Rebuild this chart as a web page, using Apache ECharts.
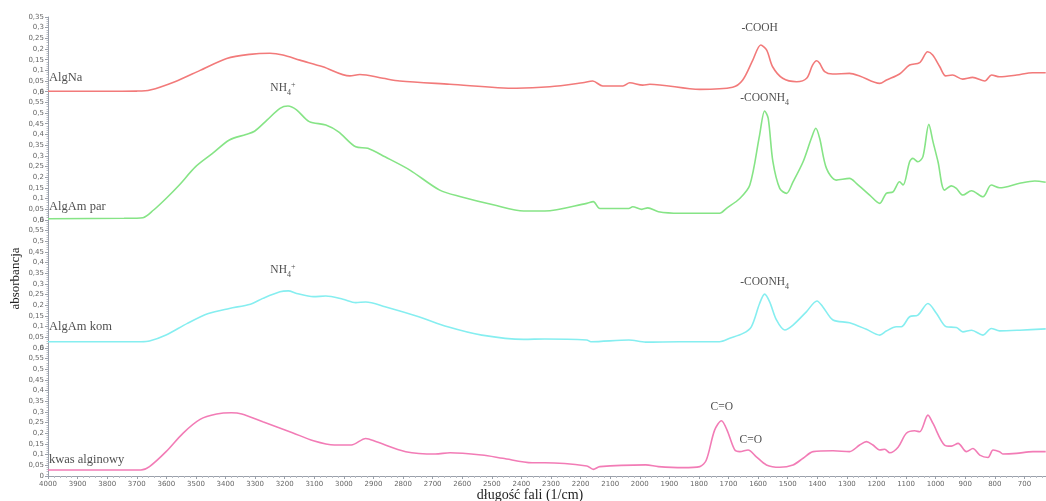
<!DOCTYPE html>
<html>
<head>
<meta charset="utf-8">
<script src="https://cdn.jsdelivr.net/npm/echarts@6/dist/echarts.min.js"></script>
<style>
  html, body { margin: 0; padding: 0; background: #fff; }
  #chart { width: 1046px; height: 501px; }
</style>
</head>
<body>
<div id="chart"></div>
<script>
// FTIR spectra, stacked: wavenumber (1/cm) and absorbance of each sample
const wnAlgNa = [4000, 3824, 3700, 3655, 3571, 3486, 3396, 3318, 3250, 3206, 3149, 3071, 2980, 2946, 2868, 2811, 2642, 2417, 2304, 2193, 2159, 2125, 2057, 2034, 1990, 1966, 1797, 1686, 1652, 1618, 1591, 1571, 1551, 1517, 1470, 1436, 1416, 1402, 1392, 1375, 1348, 1291, 1257, 1189, 1166, 1122, 1088, 1054, 1027, 1010, 986, 966, 943, 909, 875, 834, 811, 784, 726, 672, 628];
const absAlgNa = [0.002, 0.002, 0.003, 0.008, 0.047, 0.100, 0.156, 0.175, 0.180, 0.172, 0.148, 0.117, 0.074, 0.081, 0.063, 0.050, 0.035, 0.016, 0.023, 0.042, 0.050, 0.027, 0.027, 0.042, 0.031, 0.035, 0.011, 0.021, 0.055, 0.148, 0.219, 0.195, 0.117, 0.063, 0.047, 0.063, 0.125, 0.145, 0.133, 0.094, 0.083, 0.086, 0.074, 0.039, 0.055, 0.083, 0.125, 0.136, 0.187, 0.172, 0.117, 0.074, 0.078, 0.059, 0.067, 0.050, 0.078, 0.070, 0.078, 0.089, 0.089];

const wnAlgAmPar = [4000, 3743, 3679, 3643, 3601, 3557, 3501, 3444, 3387, 3331, 3302, 3260, 3216, 3189, 3160, 3117, 3061, 3018, 2960, 2919, 2861, 2777, 2676, 2605, 2492, 2392, 2321, 2179, 2157, 2135, 2037, 2024, 1993, 1973, 1937, 1865, 1730, 1707, 1662, 1628, 1595, 1578, 1566, 1550, 1527, 1504, 1482, 1448, 1420, 1405, 1392, 1369, 1336, 1291, 1268, 1223, 1189, 1167, 1144, 1122, 1110, 1088, 1077, 1060, 1043, 1023, 1009, 992, 970, 947, 930, 908, 879, 840, 812, 784, 716, 665, 628];
const absAlgAmPar = [0.005, 0.007, 0.010, 0.046, 0.100, 0.162, 0.249, 0.311, 0.374, 0.400, 0.415, 0.467, 0.522, 0.533, 0.515, 0.460, 0.444, 0.412, 0.342, 0.335, 0.295, 0.233, 0.139, 0.108, 0.069, 0.041, 0.041, 0.077, 0.085, 0.053, 0.053, 0.061, 0.049, 0.056, 0.038, 0.031, 0.031, 0.054, 0.100, 0.163, 0.397, 0.510, 0.476, 0.272, 0.147, 0.124, 0.178, 0.272, 0.382, 0.429, 0.382, 0.241, 0.186, 0.194, 0.171, 0.116, 0.077, 0.124, 0.131, 0.178, 0.163, 0.272, 0.288, 0.272, 0.296, 0.447, 0.366, 0.272, 0.139, 0.159, 0.147, 0.116, 0.136, 0.108, 0.163, 0.150, 0.171, 0.182, 0.176];

const wnAlgAmKom = [4000, 3686, 3657, 3601, 3529, 3458, 3387, 3316, 3274, 3216, 3188, 3160, 3103, 3061, 3003, 2960, 2926, 2861, 2747, 2649, 2534, 2392, 2321, 2179, 2165, 2037, 1980, 1865, 1730, 1696, 1651, 1623, 1595, 1578, 1561, 1538, 1510, 1482, 1437, 1401, 1381, 1347, 1291, 1234, 1189, 1167, 1133, 1116, 1088, 1060, 1026, 997, 964, 930, 908, 879, 840, 812, 784, 716, 628];
const absAlgAmKom = [0.029, 0.029, 0.032, 0.060, 0.115, 0.161, 0.185, 0.205, 0.232, 0.263, 0.267, 0.255, 0.240, 0.243, 0.228, 0.212, 0.215, 0.193, 0.146, 0.099, 0.060, 0.040, 0.042, 0.037, 0.029, 0.037, 0.027, 0.029, 0.029, 0.045, 0.068, 0.099, 0.208, 0.252, 0.216, 0.131, 0.084, 0.107, 0.169, 0.220, 0.192, 0.131, 0.118, 0.087, 0.060, 0.079, 0.099, 0.099, 0.146, 0.154, 0.208, 0.161, 0.099, 0.096, 0.075, 0.083, 0.060, 0.091, 0.080, 0.083, 0.089];

const wnKwas = [4000, 3686, 3657, 3601, 3544, 3486, 3430, 3380, 3345, 3274, 3174, 3103, 3032, 2975, 2926, 2890, 2791, 2691, 2641, 2534, 2463, 2364, 2321, 2179, 2157, 2135, 1980, 1937, 1854, 1797, 1775, 1747, 1724, 1705, 1679, 1662, 1634, 1606, 1572, 1527, 1482, 1448, 1414, 1347, 1291, 1257, 1234, 1212, 1189, 1172, 1155, 1127, 1099, 1071, 1054, 1026, 1009, 970, 947, 924, 896, 874, 851, 823, 806, 784, 773, 727, 671, 628];
const absKwas = [0.028, 0.028, 0.044, 0.114, 0.200, 0.265, 0.290, 0.296, 0.290, 0.254, 0.203, 0.165, 0.145, 0.145, 0.176, 0.160, 0.114, 0.103, 0.109, 0.098, 0.083, 0.062, 0.062, 0.047, 0.031, 0.044, 0.052, 0.044, 0.039, 0.044, 0.075, 0.215, 0.259, 0.215, 0.122, 0.114, 0.122, 0.090, 0.052, 0.041, 0.052, 0.083, 0.114, 0.118, 0.114, 0.145, 0.161, 0.145, 0.122, 0.125, 0.109, 0.135, 0.200, 0.212, 0.207, 0.285, 0.246, 0.145, 0.140, 0.153, 0.114, 0.129, 0.098, 0.087, 0.122, 0.114, 0.103, 0.106, 0.114, 0.114];

// sample names, colours and the vertical offset of each stacked panel
const sampleNames = ['AlgNa', 'AlgAm par', 'AlgAm kom', 'kwas alginowy'];
const sampleColors = ['#f27a7a', '#86e486', '#86eef0', '#f27cb6'];
const panelOffsets = [1.8, 1.2, 0.6, 0];
const panelHeight = 0.6;
const axisTop = 2.15;

// name labels: [wavenumber, absorbance inside its panel]
const nameLabelPos = [[4000, 0.064], [4000, 0.060], [4000, 0.098], [4000, 0.075]];

// band assignments: text, wavenumber, absorbance inside the panel, panel index
const bandText = ['-COOH', 'NH{sub|4}{sup|+}', '-COONH{sub|4}', 'NH{sub|4}{sup|+}', '-COONH{sub|4}', 'C=O', 'C=O'];
const bandWn = [1595, 3206, 1578, 3206, 1578, 1723, 1625];
const bandAbs = [0.298, 0.617, 0.570, 0.365, 0.309, 0.323, 0.169];
const bandPanel = [0, 1, 1, 2, 2, 3, 3];

const spectraWn = [wnAlgNa, wnAlgAmPar, wnAlgAmKom, wnKwas];
const spectraAbs = [absAlgNa, absAlgAmPar, absAlgAmKom, absKwas];

function yTickLabel(v) {
  const h = Math.round(v * 100);
  if (h === 0) return '0';
  const r = h % Math.round(panelHeight * 100);
  if (r === 0) return '0,6';
  return String(r / 100).replace('.', ',');
}
function yZeroLabel(v) {
  const h = Math.round(v * 100);
  return (h > 0 && h % Math.round(panelHeight * 100) === 0) ? '0' : '';
}

const serif = '"Liberation Serif", "DejaVu Serif", serif';
const tickFont = { fontFamily: 'DejaVu Sans', fontSize: 7, color: '#666' };
const richSub = {
  sub: { fontFamily: serif, fontSize: 8, color: '#222', padding: [9, 0, 0, 0] },
  sup: { fontFamily: serif, fontSize: 8, color: '#222', padding: [0, 0, 7, 0] }
};

const series = sampleNames.map((name, i) => ({
  name: name,
  type: 'line',
  xAxisIndex: 0,
  yAxisIndex: 0,
  showSymbol: false,
  smooth: 0.3,
  lineStyle: { color: sampleColors[i], width: 1.6 },
  itemStyle: { color: sampleColors[i] },
  data: spectraWn[i].map((w, k) => [w, spectraAbs[i][k] + panelOffsets[i]])
}));

series.push({
  type: 'scatter',
  symbolSize: 0,
  silent: true,
  data: sampleNames.map((n, i) => ({
    value: [nameLabelPos[i][0], nameLabelPos[i][1] + panelOffsets[i]],
    label: { formatter: n }
  })),
  label: {
    show: true, position: 'right', distance: 1,
    fontFamily: serif, fontSize: 12.5, color: '#222'
  }
});

series.push({
  type: 'scatter',
  symbolSize: 0,
  silent: true,
  data: bandText.map((t, i) => ({
    value: [bandWn[i], bandAbs[i] + panelOffsets[bandPanel[i]]],
    label: { formatter: t }
  })),
  label: {
    show: true, position: 'inside',
    fontFamily: serif, fontSize: 11.5, color: '#222',
    rich: richSub
  }
});

const chart = echarts.init(document.getElementById('chart'), null, { renderer: 'canvas' });
chart.setOption({
  animation: false,
  backgroundColor: '#fff',
  grid: { left: 48, right: -8, top: 17, bottom: 25, outerBoundsMode: 'none', containLabel: false },
  xAxis: [{
    type: 'value',
    min: 600, max: 4000, interval: 100,
    inverse: true,
    name: 'długość fali (1/cm)',
    nameLocation: 'middle',
    nameGap: 12,
    nameMoveOverlap: false,
    nameTextStyle: { fontFamily: serif, fontSize: 14, color: '#222', padding: [0, 42, 0, 0] },
    axisLine: { lineStyle: { color: '#9aa0aa', width: 1 } },
    axisTick: { length: 3, lineStyle: { color: '#9aa0aa' } },
    minorTick: { show: true, splitNumber: 5, length: 2, lineStyle: { color: '#b8bcc4' } },
    axisLabel: Object.assign({ margin: 5, formatter: v => String(v) }, tickFont),
    splitLine: { show: false }
  }],
  yAxis: [{
    type: 'value',
    min: 0, max: axisTop, interval: 0.05,
    name: 'absorbancja',
    nameLocation: 'middle',
    nameGap: 26,
    nameMoveOverlap: false,
    nameRotate: 90,
    nameTextStyle: { fontFamily: serif, fontSize: 13, color: '#222', padding: [0, 64, 0, 0] },
    axisLine: { show: true, lineStyle: { color: '#9aa0aa', width: 1 } },
    axisTick: { show: true, length: 3, lineStyle: { color: '#9aa0aa' } },
    minorTick: { show: true, splitNumber: 5, length: 1.5, lineStyle: { color: '#b8bcc4' } },
    axisLabel: Object.assign({ margin: 4, formatter: yTickLabel }, tickFont),
    splitLine: { show: false }
  }, {
    type: 'value',
    min: 0, max: axisTop, interval: 0.05,
    position: 'left',
    axisLine: { show: false },
    axisTick: { show: false },
    axisLabel: Object.assign({ margin: 4, formatter: yZeroLabel }, tickFont),
    splitLine: { show: false }
  }],
  series: series
});
</script>
</body>
</html>
